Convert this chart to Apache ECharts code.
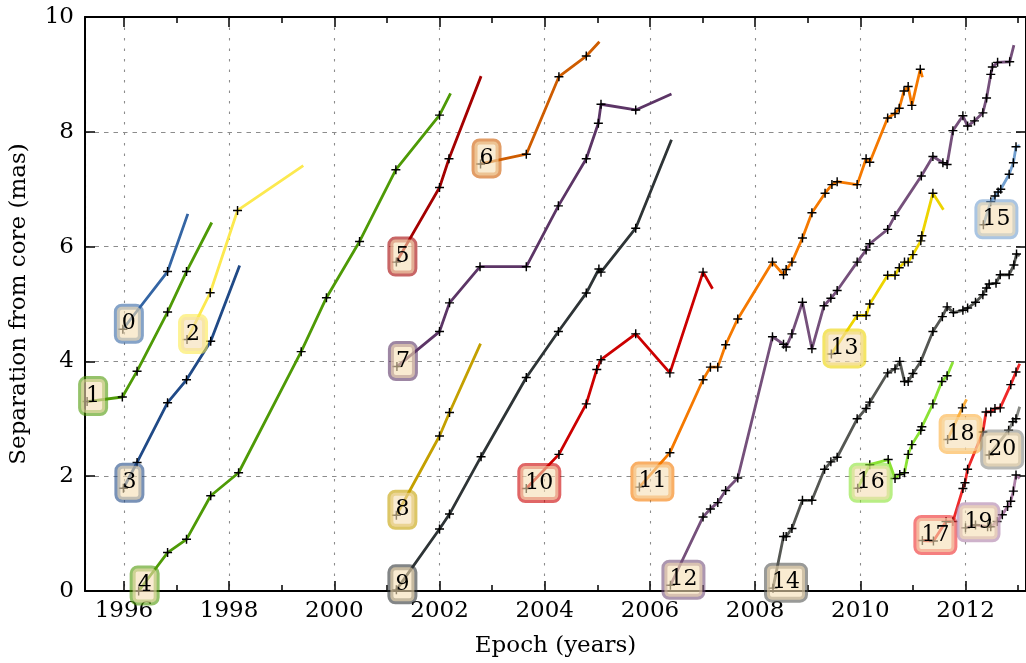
<!DOCTYPE html>
<html><head><meta charset="utf-8">
<script src="https://cdn.jsdelivr.net/npm/echarts@6/dist/echarts.min.js"></script>
<style>html,body{margin:0;padding:0;background:#fff}#c{width:1026px;height:663px}</style>
</head><body><div id="c"></div>
<script>
// Each component: [epoch (years), separation (mas)]; last point is the line end (no marker)
const s0 = [[1995.98,4.56],[1996.83,5.565],[1997.215,6.57]];
const s1 = [[1995.30,3.30],[1995.97,3.38],[1996.25,3.83],[1996.83,4.86],[1997.19,5.565],[1997.67,6.42]];
const s2 = [[1997.20,4.38],[1997.64,5.195],[1998.16,6.63],[1999.41,7.41]];
const s3 = [[1995.99,1.79],[1996.25,2.24],[1996.83,3.28],[1997.19,3.68],[1997.65,4.35],[1998.20,5.67]];
const s4 = [[1996.28,0.0],[1996.83,0.67],[1997.19,0.90],[1997.65,1.66],[1998.18,2.06],[1999.37,4.17],[1999.85,5.11],[2000.48,6.09],[2001.17,7.34],[2002.0,8.29],[2002.21,8.67]];
const s5 = [[2001.18,5.73],[2002.0,7.03],[2002.18,7.53],[2002.79,8.97]];
const s6 = [[2002.78,7.44],[2003.65,7.61],[2004.27,8.96],[2004.79,9.32],[2005.04,9.57]];
const s7 = [[2001.19,3.91],[2002.0,4.52],[2002.19,5.02],[2002.77,5.65],[2003.65,5.65],[2004.26,6.71],[2004.79,7.53],[2005.02,8.15],[2005.07,8.48],[2005.73,8.38],[2006.41,8.66]];
const s8 = [[2001.18,1.32],[2002.0,2.70],[2002.19,3.11],[2002.78,4.31]];
const s9 = [[2001.18,0.02],[2002.0,1.08],[2002.19,1.34],[2002.79,2.34],[2003.65,3.72],[2004.26,4.52],[2004.79,5.19],[2005.03,5.61],[2005.07,5.555],[2005.73,6.32],[2006.41,7.86]];
const s10 = [[2003.65,1.785],[2004.27,2.38],[2004.79,3.26],[2004.99,3.86],[2005.07,4.03],[2005.73,4.48],[2006.38,3.80],[2007.01,5.555],[2007.19,5.265]];
const s11 = [[2005.80,1.81],[2006.38,2.41],[2007.01,3.68],[2007.15,3.90],[2007.29,3.90],[2007.44,4.29],[2007.67,4.74],[2008.33,5.73],[2008.54,5.51],[2008.59,5.60],[2008.70,5.73],[2008.90,6.15],[2009.08,6.59],[2009.33,6.93],[2009.46,7.08],[2009.56,7.13],[2009.94,7.08],[2010.11,7.53],[2010.18,7.47],[2010.52,8.24],[2010.66,8.32],[2010.74,8.41],[2010.83,8.71],[2010.91,8.79],[2010.98,8.46],[2011.14,9.09],[2011.18,8.95]];
const s12 = [[2006.39,0.10],[2007.01,1.29],[2007.15,1.43],[2007.29,1.54],[2007.44,1.75],[2007.67,1.97],[2008.33,4.43],[2008.54,4.30],[2008.59,4.25],[2008.70,4.48],[2008.90,5.03],[2009.08,4.22],[2009.31,4.97],[2009.44,5.10],[2009.56,5.235],[2009.94,5.73],[2010.11,5.94],[2010.18,6.05],[2010.52,6.30],[2010.66,6.54],[2011.16,7.23],[2011.38,7.57],[2011.57,7.46],[2011.65,7.43],[2011.76,8.02],[2011.95,8.28],[2012.04,8.10],[2012.17,8.19],[2012.33,8.33],[2012.40,8.59],[2012.48,9.00],[2012.51,9.13],[2012.61,9.21],[2012.84,9.22],[2012.92,9.51]];
const s13 = [[2009.45,4.13],[2009.94,4.80],[2010.11,4.80],[2010.18,5.00],[2010.52,5.50],[2010.66,5.50],[2010.74,5.63],[2010.84,5.73],[2010.91,5.73],[2011.00,5.86],[2011.15,6.10],[2011.17,6.19],[2011.38,6.93],[2011.58,6.64]];
const s14 = [[2008.34,0.05],[2008.54,0.95],[2008.59,0.95],[2008.70,1.09],[2008.90,1.58],[2009.08,1.58],[2009.32,2.12],[2009.44,2.25],[2009.56,2.33],[2009.94,3.00],[2010.11,3.18],[2010.18,3.29],[2010.52,3.80],[2010.66,3.87],[2010.75,4.00],[2010.84,3.65],[2010.91,3.65],[2011.00,3.79],[2011.15,4.00],[2011.38,4.52],[2011.56,4.78],[2011.65,4.95],[2011.77,4.85],[2011.95,4.89],[2012.04,4.93],[2012.19,5.03],[2012.33,5.16],[2012.40,5.28],[2012.45,5.35],[2012.58,5.36],[2012.66,5.51],[2012.83,5.51],[2012.92,5.68],[2012.97,5.87],[2013.03,5.84]];
const s15 = [[2012.34,6.38],[2012.48,6.78],[2012.56,6.88],[2012.62,6.95],[2012.67,7.00],[2012.83,7.26],[2012.91,7.46],[2012.96,7.74],[2013.03,7.76]];
const s16 = [[2009.95,1.79],[2010.18,2.20],[2010.53,2.29],[2010.66,1.96],[2010.75,2.03],[2010.84,2.06],[2010.91,2.38],[2010.98,2.55],[2011.15,2.80],[2011.17,2.86],[2011.38,3.26],[2011.55,3.65],[2011.65,3.75],[2011.76,3.99]];
const s17 = [[2011.18,0.88],[2011.39,0.87],[2011.63,1.21],[2011.76,1.21],[2011.95,1.785],[2011.99,1.885],[2012.04,2.12],[2012.33,2.77],[2012.39,3.12],[2012.48,3.12],[2012.56,3.18],[2012.66,3.19],[2012.86,3.595],[2012.96,3.815],[2013.03,3.96]];
const s18 = [[2011.66,2.64],[2011.94,3.19],[2012.02,3.34]];
const s19 = [[2012.0,1.10],[2012.19,1.15],[2012.42,1.12],[2012.48,1.12],[2012.60,1.21],[2012.70,1.33],[2012.80,1.47],[2012.86,1.565],[2012.91,1.74],[2012.96,2.02],[2013.03,1.96]];
const s20 = [[2012.45,2.37],[2012.82,2.80],[2012.90,2.95],[2012.96,3.00],[2013.03,3.21]];

const components = [s0,s1,s2,s3,s4,s5,s6,s7,s8,s9,s10,s11,s12,s13,s14,s15,s16,s17,s18,s19,s20];
const componentNames = ['0','1','2','3','4','5','6','7','8','9','10','11','12','13','14','15','16','17','18','19','20'];
const colors = ['#3465a4','#4e9a06','#fce94f','#204a87','#4e9a06','#a40000','#ce5c00','#5c3566','#c4a000','#2e3436','#cc0000','#f57900','#75507b','#edd400','#555753','#729fcf','#8ae234','#ef2929','#fcaf3e','#ad7fa8','#888a85'];

const xMin = 1995.26, xMax = 2013.15;
const FONT = 'DejaVu Serif';
const plus = 'path://M4.2,0L5.8,0L5.8,4.2L10,4.2L10,5.8L5.8,5.8L5.8,10L4.2,10L4.2,5.8L0,5.8L0,4.2L4.2,4.2Z';

function rgba(hex, a) {
  const n = parseInt(hex.slice(1), 16);
  return 'rgba(' + ((n >> 16) & 255) + ',' + ((n >> 8) & 255) + ',' + (n & 255) + ',' + a + ')';
}

const series = components.map((pts, i) => ({
  type: 'line',
  name: componentNames[i],
  xAxisIndex: 0, yAxisIndex: 0,
  symbol: plus, symbolSize: 9, showSymbol: true, showAllSymbol: true,
  itemStyle: { color: '#000' },
  lineStyle: { color: colors[i], width: 2.8 },
  emphasis: { disabled: true },
  clip: true,
  z: 2,
  data: pts.map((p, j) => {
    const item = { value: p };
    if (j === pts.length - 1) item.symbol = 'none';
    if (j === 0) {
      item.label = {
        show: true, position: 'inside', formatter: componentNames[i],
        align: 'left', verticalAlign: 'middle', offset: [-6, -5.5],
        fontFamily: FONT, fontSize: 22, lineHeight: 27, color: '#000', textBorderWidth: 0,
        backgroundColor: 'rgba(245,222,179,0.6)',
        borderColor: rgba(colors[i], 0.6), borderWidth: 3, borderRadius: 5,
        padding: [4, 5, 3, 5]
      };
    }
    return item;
  })
}));

const axisLineStyle = { color: '#000', width: 2 };
const tickStyle = { color: '#000', width: 1.5 };

const chart = echarts.init(document.getElementById('c'), null, { renderer: 'canvas' });
chart.setOption({
  animation: false,
  backgroundColor: '#fff',
  grid: { left: 85, top: 17, width: 945, height: 575.7, containLabel: false },
  xAxis: [
    { type: 'value', position: 'bottom', min: xMin, max: xMax, splitNumber: 9,
      axisLine: { show: true, onZero: false, lineStyle: axisLineStyle },
      axisTick: { show: true, inside: true, length: 10, lineStyle: tickStyle },
      axisLabel: { show: true, margin: 9, color: '#000', fontFamily: FONT, fontSize: 23,
        showMinLabel: false, showMaxLabel: false, formatter: v => String(Math.round(v)) },
      splitLine: { show: true, lineStyle: { color: '#8c8c8c', width: 1.1, type: [2.5, 8] } },
      name: 'Epoch (years)', nameLocation: 'middle', nameGap: 44,
      nameTextStyle: { color: '#000', fontFamily: FONT, fontSize: 23 } },
    { type: 'value', position: 'top', min: xMin, max: xMax, splitNumber: 9,
      axisLine: { show: true, onZero: false, lineStyle: axisLineStyle },
      axisTick: { show: true, inside: true, length: 10, lineStyle: tickStyle },
      axisLabel: { show: false }, splitLine: { show: false } },
    { type: 'value', position: 'bottom', min: xMin, max: xMax, splitNumber: 18,
      axisLine: { show: false, onZero: false },
      axisTick: { show: true, inside: true, length: 6, lineStyle: tickStyle },
      axisLabel: { show: false }, splitLine: { show: false } },
    { type: 'value', position: 'top', min: xMin, max: xMax, splitNumber: 18,
      axisLine: { show: false, onZero: false },
      axisTick: { show: true, inside: true, length: 6, lineStyle: tickStyle },
      axisLabel: { show: false }, splitLine: { show: false } }
  ],
  yAxis: [
    { type: 'value', position: 'left', min: 0, max: 10, interval: 2,
      axisLine: { show: true, onZero: false, lineStyle: axisLineStyle },
      axisTick: { show: true, inside: true, length: 10, lineStyle: tickStyle },
      axisLabel: { show: true, margin: 11, color: '#000', fontFamily: FONT, fontSize: 23 },
      splitLine: { show: true, lineStyle: { color: '#8c8c8c', width: 1.1, type: [4.5, 5] } },
      name: 'Separation from core (mas)', nameLocation: 'middle', nameGap: 54,
      nameTextStyle: { color: '#000', fontFamily: FONT, fontSize: 23 } },
    { type: 'value', position: 'right', min: 0, max: 10, interval: 2,
      axisLine: { show: true, onZero: false, lineStyle: axisLineStyle },
      axisTick: { show: true, inside: true, length: 10, lineStyle: tickStyle },
      axisLabel: { show: false }, splitLine: { show: false } }
  ],
  series: series
});
</script>
</body></html>
